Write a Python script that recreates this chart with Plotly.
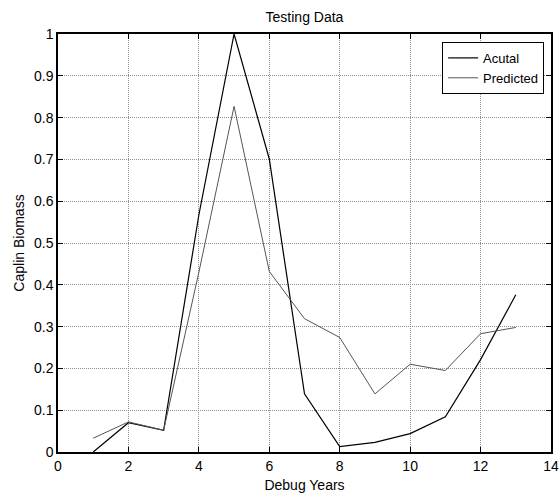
import plotly.graph_objects as go

years = [1, 2, 3, 4, 5, 6, 7, 8, 9, 10, 11, 12, 13]
actual = [0.0, 0.070, 0.052, 0.567, 1.0, 0.701, 0.139, 0.013, 0.023, 0.044, 0.084, 0.221, 0.376]
predicted = [0.033, 0.072, 0.052, 0.43, 0.827, 0.432, 0.319, 0.274, 0.139, 0.210, 0.195, 0.283, 0.298]

x_ticks = [0, 2, 4, 6, 8, 10, 12, 14]
y_ticks = [0, 0.1, 0.2, 0.3, 0.4, 0.5, 0.6, 0.7, 0.8, 0.9, 1]
y_tick_labels = ["0", "0.1", "0.2", "0.3", "0.4", "0.5", "0.6", "0.7", "0.8", "0.9", "1"]

font_family = "Liberation Sans, Arial, sans-serif"

fig = go.Figure()
fig.add_trace(go.Scatter(x=years, y=actual, mode="lines", name="Acutal",
                         line=dict(color="black", width=1.2)))
fig.add_trace(go.Scatter(x=years, y=predicted, mode="lines", name="Predicted",
                         line=dict(color="#555555", width=1)))

axis_common = dict(
    showline=True, linecolor="black", linewidth=1.5, mirror="ticks",
    ticks="inside", ticklen=5, tickcolor="black",
    showgrid=True, gridcolor="#909090", griddash="1px,1px", gridwidth=1,
    zeroline=False, automargin=False,
    tickfont=dict(family=font_family, size=14, color="black"),
)

fig.update_layout(
    width=560, height=497,
    margin=dict(l=58, r=9, t=34, b=45),
    paper_bgcolor="white", plot_bgcolor="white",
    title=dict(text="Testing Data", x=0.5, xref="paper", y=1 - 17 / 497, yanchor="middle",
               font=dict(family=font_family, size=14, color="black")),
    xaxis=dict(range=[0, 14], tickvals=x_ticks,
               title=dict(text="Debug Years", standoff=8,
                          font=dict(family=font_family, size=14, color="black")),
               **axis_common),
    yaxis=dict(range=[0, 1], tickvals=y_ticks, ticktext=y_tick_labels,
               title=dict(text="Caplin Biomass", standoff=6,
                          font=dict(family=font_family, size=14, color="black")),
               **axis_common),
    legend=dict(x=0.986, y=0.981, xanchor="right", yanchor="top",
                bgcolor="white", bordercolor="black", borderwidth=1,
                font=dict(family=font_family, size=13, color="black"),
                tracegroupgap=0, itemwidth=30),
    showlegend=True,
)

fig.write_html("out.html", config={"displayModeBar": False},
               post_script="document.body.style.margin='0';")
